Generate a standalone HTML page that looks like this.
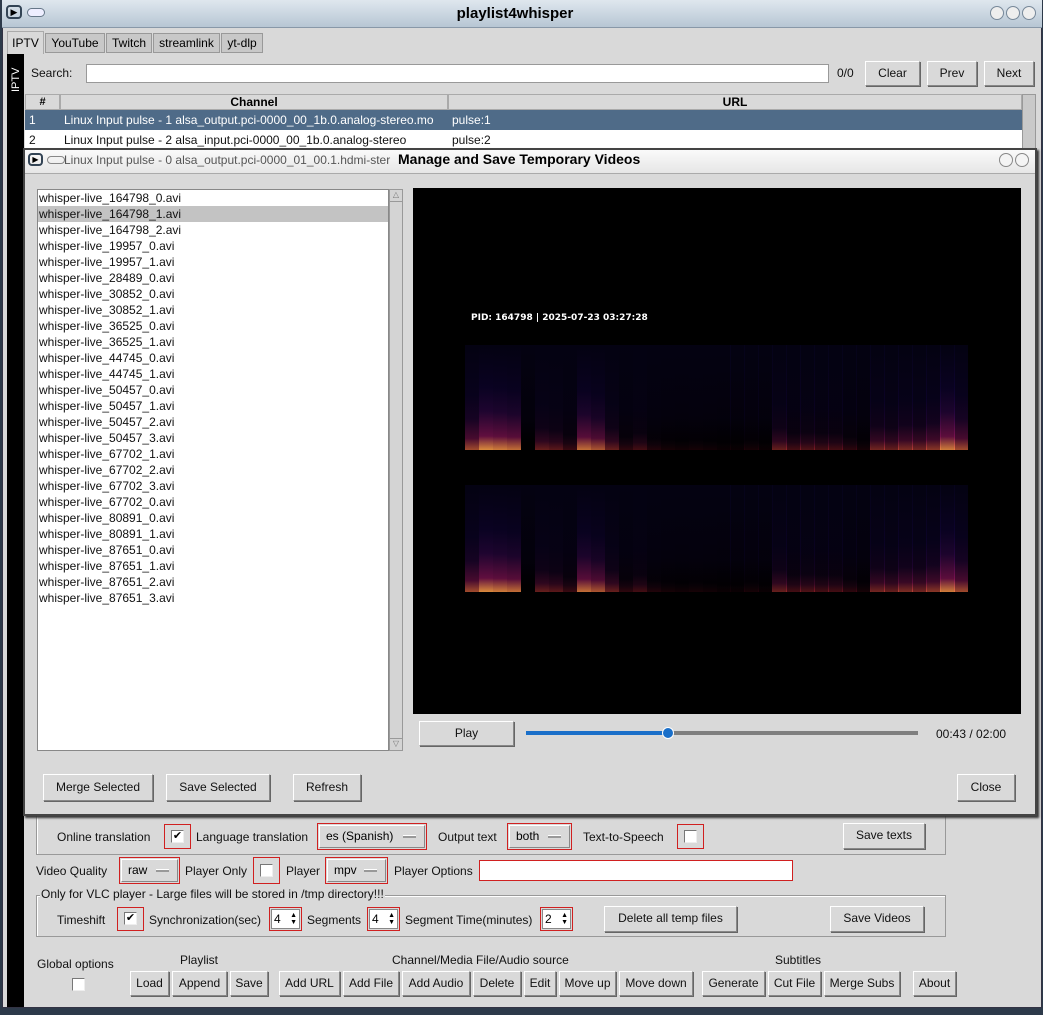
<!DOCTYPE html>
<html><head><meta charset="utf-8">
<style>
*{box-sizing:border-box}
body{margin:0;width:1043px;height:1015px;overflow:hidden;background:#2d3a4a;font-family:"Liberation Sans",sans-serif;font-size:12px;color:#000;position:relative}
.a{position:absolute}
.btn{position:absolute;background:#d9d9d9;border:1px solid;border-color:#fff #888 #888 #fff;box-shadow:1px 1px 0 #666;text-align:center;font-size:12px;line-height:22px;color:#111}
.red{position:absolute;border:1px solid #d02020}
.lbl{position:absolute;font-size:12px;white-space:nowrap;color:#111}
.cb{position:absolute;width:13px;height:13px;background:#fff;border:1px solid;border-color:#777 #eee #eee #777;font-size:11px;line-height:11px;text-align:center}
.grp{position:absolute;border:1px solid #999;box-shadow:inset 1px 1px 0 #fff}
.li{height:16px;line-height:16px;padding-left:1px;font-size:12px;color:#111}
.spin{position:absolute;background:#fff;border:1px solid #888}
.dd{position:absolute;background:#d9d9d9;border:1px solid;border-color:#fff #888 #888 #fff;font-size:12px;line-height:20px;padding-left:6px}
.dd:after{content:"";position:absolute;right:8px;top:9px;width:13px;height:2px;background:#999;border-top:1px solid #fff}
</style></head><body>
<div class="a" style="left:2px;top:0;width:1040px;height:1008px;background:#d9d9d9;border:1px solid #334"></div>
<div class="a" style="left:2px;top:0;width:1040px;height:28px;background:linear-gradient(#dfe7ee,#b7c6d4);border-bottom:1px solid #8898a8"></div>
<div class="a" style="left:6px;top:5px;width:16px;height:14px;border:2px solid #345;border-radius:4px;font-size:9px;line-height:10px;text-align:center">▶</div>
<div class="a" style="left:27px;top:8px;width:18px;height:9px;border:1px solid #678;border-radius:5px;background:#eef"></div>
<div class="a" style="left:0;width:1030px;top:5px;text-align:center;font-weight:bold;font-size:15px">playlist4whisper</div>
<div class="a" style="left:990px;top:6px;width:50px;height:16px;">
<span style="display:inline-block;width:14px;height:14px;border-radius:7px;background:#eee;border:1px solid #789"></span><span style="display:inline-block;width:14px;height:14px;border-radius:7px;background:#eee;border:1px solid #789;margin-left:2px"></span><span style="display:inline-block;width:14px;height:14px;border-radius:7px;background:#eee;border:1px solid #789;margin-left:2px"></span></div>

<div class="a" style="left:7px;top:31px;width:37px;height:23px;background:#d9d9d9;border:1px solid #aaa;border-bottom:none;line-height:22px;text-align:center">IPTV</div>
<div class="a" style="left:45px;top:33px;width:60px;height:20px;background:#c8c8c8;border:1px solid #999;line-height:18px;text-align:center">YouTube</div>
<div class="a" style="left:106px;top:33px;width:46px;height:20px;background:#c8c8c8;border:1px solid #999;line-height:18px;text-align:center">Twitch</div>
<div class="a" style="left:153px;top:33px;width:67px;height:20px;background:#c8c8c8;border:1px solid #999;line-height:18px;text-align:center">streamlink</div>
<div class="a" style="left:221px;top:33px;width:42px;height:20px;background:#c8c8c8;border:1px solid #999;line-height:18px;text-align:center">yt-dlp</div>
<div class="a" style="left:7px;top:54px;width:17px;height:953px;background:#000"></div>
<div class="a" style="color:#fff;font-size:11px;transform:rotate(-90deg);transform-origin:left top;top:92px;left:10px">IPTV</div>

<div class="lbl" style="left:31px;top:66px">Search:</div>
<div class="a" style="left:86px;top:64px;width:743px;height:19px;background:#fff;border:1px solid #999"></div>
<div class="lbl" style="left:837px;top:66px">0/0</div>
<div class="btn" style="left:865px;top:61px;width:55px;height:25px">Clear</div>
<div class="btn" style="left:927px;top:61px;width:50px;height:25px">Prev</div>
<div class="btn" style="left:984px;top:61px;width:50px;height:25px">Next</div>

<div class="a" style="left:25px;top:94px;width:997px;height:60px;background:#fff"></div>
<div class="a" style="left:25px;top:94px;width:35px;height:16px;background:#d9d9d9;border:1px solid #aaa;text-align:center;font-weight:bold;font-size:11px;line-height:14px">#</div>
<div class="a" style="left:60px;top:94px;width:388px;height:16px;background:#d9d9d9;border:1px solid #aaa;text-align:center;font-weight:bold;line-height:14px">Channel</div>
<div class="a" style="left:448px;top:94px;width:574px;height:16px;background:#d9d9d9;border:1px solid #aaa;text-align:center;font-weight:bold;line-height:14px">URL</div>
<div class="a" style="left:1022px;top:94px;width:14px;height:60px;background:#c9c9c9;border:1px solid #999"></div>
<div class="a" style="left:25px;top:110px;width:997px;height:20px;background:#4f6b88;color:#fff;line-height:20px"><span style="position:absolute;left:4px">1</span><span style="position:absolute;left:39px">Linux Input pulse - 1 alsa_output.pci-0000_00_1b.0.analog-stereo.mo</span><span style="position:absolute;left:427px">pulse:1</span></div>
<div class="a" style="left:25px;top:130px;width:997px;height:20px;line-height:20px;color:#111"><span style="position:absolute;left:4px">2</span><span style="position:absolute;left:39px">Linux Input pulse - 2 alsa_input.pci-0000_00_1b.0.analog-stereo</span><span style="position:absolute;left:427px">pulse:2</span></div>

<div class="grp" style="left:36px;top:812px;width:910px;height:43px"></div>
<div class="lbl" style="left:57px;top:830px">Online translation</div>
<div class="red" style="left:164px;top:824px;width:27px;height:25px"></div>
<div class="cb" style="left:171px;top:830px">✔</div>
<div class="lbl" style="left:196px;top:830px">Language translation</div>
<div class="red" style="left:317px;top:823px;width:110px;height:27px"></div>
<div class="dd" style="left:319px;top:825px;width:106px;height:23px">es (Spanish)</div>
<div class="lbl" style="left:438px;top:830px">Output text</div>
<div class="red" style="left:507px;top:823px;width:65px;height:27px"></div>
<div class="dd" style="left:509px;top:825px;width:61px;height:23px">both</div>
<div class="lbl" style="left:583px;top:830px">Text-to-Speech</div>
<div class="red" style="left:677px;top:824px;width:27px;height:25px"></div>
<div class="cb" style="left:684px;top:830px"></div>
<div class="btn" style="left:843px;top:823px;width:82px;height:26px">Save texts</div>

<div class="lbl" style="left:36px;top:864px">Video Quality</div>
<div class="red" style="left:119px;top:857px;width:61px;height:27px"></div>
<div class="dd" style="left:121px;top:859px;width:57px;height:23px">raw</div>
<div class="lbl" style="left:185px;top:864px">Player Only</div>
<div class="red" style="left:253px;top:857px;width:27px;height:27px"></div>
<div class="cb" style="left:260px;top:864px"></div>
<div class="lbl" style="left:286px;top:864px">Player</div>
<div class="red" style="left:325px;top:857px;width:63px;height:27px"></div>
<div class="dd" style="left:327px;top:859px;width:59px;height:23px">mpv</div>
<div class="lbl" style="left:394px;top:864px">Player Options</div>
<div class="a" style="left:479px;top:860px;width:314px;height:21px;background:#fff;border:1px solid #d02020"></div>

<div class="grp" style="left:36px;top:895px;width:910px;height:42px"></div>
<div class="lbl" style="left:40px;top:887px;background:#d9d9d9;padding:0 1px">Only for VLC player - Large files will be stored in /tmp directory!!!</div>
<div class="lbl" style="left:57px;top:913px">Timeshift</div>
<div class="red" style="left:117px;top:907px;width:27px;height:24px"></div>
<div class="cb" style="left:124px;top:912px">✔</div>
<div class="lbl" style="left:149px;top:913px">Synchronization(sec)</div>
<div class="red" style="left:269px;top:907px;width:33px;height:24px"></div>
<div class="spin" style="left:271px;top:909px;width:29px;height:20px;padding-left:2px;line-height:18px">4<span style="position:absolute;right:2px;top:2px;font-size:7px;line-height:7px">▲<br>▼</span></div>
<div class="lbl" style="left:307px;top:913px">Segments</div>
<div class="red" style="left:367px;top:907px;width:33px;height:24px"></div>
<div class="spin" style="left:369px;top:909px;width:29px;height:20px;padding-left:2px;line-height:18px">4<span style="position:absolute;right:2px;top:2px;font-size:7px;line-height:7px">▲<br>▼</span></div>
<div class="lbl" style="left:405px;top:913px">Segment Time(minutes)</div>
<div class="red" style="left:540px;top:907px;width:33px;height:24px"></div>
<div class="spin" style="left:542px;top:909px;width:29px;height:20px;padding-left:2px;line-height:18px">2<span style="position:absolute;right:2px;top:2px;font-size:7px;line-height:7px">▲<br>▼</span></div>
<div class="btn" style="left:604px;top:906px;width:133px;height:26px">Delete all temp files</div>
<div class="btn" style="left:830px;top:906px;width:94px;height:26px">Save Videos</div>

<div class="lbl" style="left:37px;top:957px">Global options</div>
<div class="cb" style="left:72px;top:978px"></div>
<div class="lbl" style="left:180px;top:953px">Playlist</div>
<div class="lbl" style="left:392px;top:953px">Channel/Media File/Audio source</div>
<div class="lbl" style="left:775px;top:953px">Subtitles</div>
<div class="btn" style="left:130px;top:971px;width:39px;height:25px">Load</div>
<div class="btn" style="left:172px;top:971px;width:55px;height:25px">Append</div>
<div class="btn" style="left:230px;top:971px;width:38px;height:25px">Save</div>
<div class="btn" style="left:279px;top:971px;width:61px;height:25px">Add URL</div>
<div class="btn" style="left:343px;top:971px;width:56px;height:25px">Add File</div>
<div class="btn" style="left:402px;top:971px;width:68px;height:25px">Add Audio</div>
<div class="btn" style="left:473px;top:971px;width:48px;height:25px">Delete</div>
<div class="btn" style="left:524px;top:971px;width:32px;height:25px">Edit</div>
<div class="btn" style="left:559px;top:971px;width:57px;height:25px">Move up</div>
<div class="btn" style="left:619px;top:971px;width:74px;height:25px">Move down</div>
<div class="btn" style="left:702px;top:971px;width:63px;height:25px">Generate</div>
<div class="btn" style="left:768px;top:971px;width:53px;height:25px">Cut File</div>
<div class="btn" style="left:824px;top:971px;width:76px;height:25px">Merge Subs</div>
<div class="btn" style="left:913px;top:971px;width:43px;height:25px">About</div>

<div class="a" style="left:23px;top:148px;width:1014px;height:668px;background:#d9d9d9;border:2px solid #444;box-shadow:2px 2px 2px #333"></div>
<div class="a" style="left:25px;top:150px;width:1010px;height:24px;background:linear-gradient(#fafafa,#e6e6e6);border-bottom:1px solid #aaa"></div>
<div class="a" style="left:28px;top:153px;width:15px;height:13px;border:2px solid #345;border-radius:4px;font-size:8px;line-height:9px;text-align:center">▶</div>
<div class="a" style="left:47px;top:156px;width:18px;height:8px;border:1px solid #888;border-radius:4px"></div>
<div class="lbl" style="left:64px;top:153px;color:#555">Linux Input pulse - 0 alsa_output.pci-0000_01_00.1.hdmi-ster</div>
<div class="a" style="left:398px;top:151px;font-weight:bold;font-size:14px">Manage and Save Temporary Videos</div>
<div class="a" style="left:999px;top:153px;width:32px;height:16px"><span style="display:inline-block;width:14px;height:14px;border-radius:7px;background:#f4f4f4;border:1px solid #888"></span><span style="display:inline-block;width:14px;height:14px;border-radius:7px;background:#f4f4f4;border:1px solid #888;margin-left:2px"></span></div>

<div class="a" style="left:37px;top:189px;width:352px;height:562px;background:#fff;border:1px solid #888" id="list"></div>
<div class="a" style="left:389px;top:189px;width:14px;height:562px;background:#d4d4d4;border:1px solid #999"><div style="height:12px;border-bottom:1px solid #999;font-size:8px;text-align:center;color:#777">△</div><div style="position:absolute;bottom:0;width:12px;height:12px;border-top:1px solid #999;font-size:8px;text-align:center;color:#777">▽</div></div>

<div class="a" style="left:413px;top:188px;width:608px;height:526px;background:#000" id="video"></div>
<div class="a" style="left:471px;top:313px;color:#fff;font-weight:bold;font-size:9px;font-family:'DejaVu Sans',sans-serif">PID: 164798 | 2025-07-23 03:27:28</div>

<div class="btn" style="left:419px;top:721px;width:95px;height:25px">Play</div>
<div class="a" style="left:526px;top:731px;width:392px;height:4px;background:#7f7f7f"></div>
<div class="a" style="left:526px;top:731px;width:142px;height:4px;background:#1a6fc9"></div>
<div class="a" style="left:662px;top:727px;width:12px;height:12px;border-radius:6px;background:#1a6fc9;border:1px solid #fff"></div>
<div class="lbl" style="left:936px;top:727px">00:43 / 02:00</div>

<div class="btn" style="left:43px;top:774px;width:110px;height:27px;line-height:25px">Merge Selected</div>
<div class="btn" style="left:166px;top:774px;width:104px;height:27px;line-height:25px">Save Selected</div>
<div class="btn" style="left:293px;top:774px;width:68px;height:27px;line-height:25px">Refresh</div>
<div class="btn" style="left:957px;top:774px;width:58px;height:27px;line-height:25px">Close</div>

<script>
const files=["whisper-live_164798_0.avi","whisper-live_164798_1.avi","whisper-live_164798_2.avi","whisper-live_19957_0.avi","whisper-live_19957_1.avi","whisper-live_28489_0.avi","whisper-live_30852_0.avi","whisper-live_30852_1.avi","whisper-live_36525_0.avi","whisper-live_36525_1.avi","whisper-live_44745_0.avi","whisper-live_44745_1.avi","whisper-live_50457_0.avi","whisper-live_50457_1.avi","whisper-live_50457_2.avi","whisper-live_50457_3.avi","whisper-live_67702_1.avi","whisper-live_67702_2.avi","whisper-live_67702_3.avi","whisper-live_67702_0.avi","whisper-live_80891_0.avi","whisper-live_80891_1.avi","whisper-live_87651_0.avi","whisper-live_87651_1.avi","whisper-live_87651_2.avi","whisper-live_87651_3.avi"];
const selectedIndex=1;
const specEnergy=[0.7,0.95,0.9,0.85,0.0,0.45,0.4,0.25,0.85,0.75,0.45,0.2,0.3,0.15,0.1,0.08,0.1,0.08,0.05,0.05,0.1,0.05,0.45,0.3,0.35,0.3,0.3,0.2,0.1,0.5,0.45,0.55,0.5,0.6,0.9,0.7];
const list=document.getElementById('list');
files.forEach((f,i)=>{const d=document.createElement('div');d.className='li';d.textContent=f;


if(i===selectedIndex)d.style.background='#c3c3c3';list.appendChild(d);});
const video=document.getElementById('video');
const x0=465-413,x1=968-413,panels=[[345-188,105],[485-188,107]];
const cw=(x1-x0)/specEnergy.length;
panels.forEach(([top,h])=>{specEnergy.forEach((e,i)=>{const c=document.createElement('div');


const hot=Math.round(e*35);
c.style.cssText=`position:absolute;left:${x0+i*cw}px;top:${top}px;width:${cw+0.5}px;height:${h}px;background:linear-gradient(to top, rgba(255,${Math.round(170*e)},70,${Math.min(1,e*0.9)}) 0px, rgba(170,25,110,${e*0.6}) ${4+hot*0.3}px, rgba(70,10,110,${e*0.45}) ${hot+6}px, rgba(20,5,70,${0.15+e*0.35}) ${hot+30}px, rgba(8,4,35,0.5) ${h}px)`;
video.appendChild(c);});});
</script>
</body></html>
